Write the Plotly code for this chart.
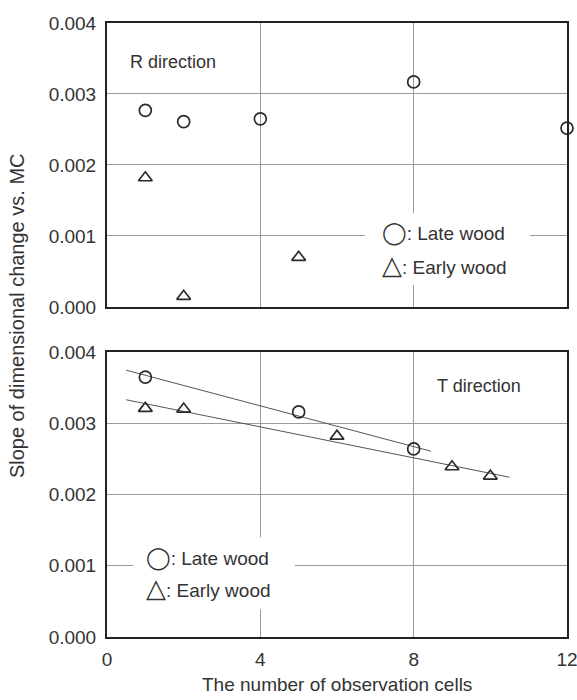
import numpy as np
import plotly.graph_objects as go

# ---- data ----
r_late_x = [1, 2, 4, 8, 12]
r_late_y = [0.00277, 0.00261, 0.00265, 0.00317, 0.00252]
r_early_x = [1, 2, 5]
r_early_y = [0.00182, 0.00015, 0.00070]

t_late_x = [1, 5, 8]
t_late_y = [0.00365, 0.00316, 0.00264]
t_early_x = [1, 2, 6, 9, 10]
t_early_y = [0.00321, 0.00320, 0.00282, 0.00239, 0.00226]

# extents of the fitted regression lines
t_late_fit_range = [0.5, 8.45]
t_early_fit_range = [0.5, 10.5]

x_ticks = [0, 4, 8, 12]
y_ticks = [0.000, 0.001, 0.002, 0.003, 0.004]
y_ticktext = ["0.000", "0.001", "0.002", "0.003", "0.004"]

FONT = "Liberation Sans, Arial, sans-serif"
TXT = "#333333"
MK = "#2a2a2a"
GRID = "#9a9a9a"

fig = go.Figure()

def markers(x, y, symbol, xa, ya):
    return go.Scatter(x=x, y=y, mode="markers", xaxis=xa, yaxis=ya,
                      cliponaxis=False, showlegend=False,
                      marker=dict(symbol=symbol, size=12, color=MK,
                                  line=dict(color=MK, width=1.7)))

# top: R direction
fig.add_trace(markers(r_late_x, r_late_y, "circle-open", "x2", "y2"))
fig.add_trace(markers(r_early_x, r_early_y, "triangle-up-open", "x2", "y2"))

# bottom: T direction with regression lines
for xs, ys, rng in [(t_late_x, t_late_y, t_late_fit_range),
                    (t_early_x, t_early_y, t_early_fit_range)]:
    k, b = np.polyfit(xs, ys, 1)
    lx = np.array(rng)
    fig.add_trace(go.Scatter(x=lx, y=k * lx + b, mode="lines", xaxis="x", yaxis="y",
                             showlegend=False, line=dict(color="#555555", width=1)))
fig.add_trace(markers(t_late_x, t_late_y, "circle-open", "x", "y"))
fig.add_trace(markers(t_early_x, t_early_y, "triangle-up-open", "x", "y"))

axis_common = dict(range=[0, 12], tickvals=x_ticks, showgrid=True, gridcolor=GRID,
                   gridwidth=1, showline=True, linecolor="#222222", linewidth=2,
                   mirror=True, zeroline=False, ticks="", ticklabelstandoff=4,
                   automargin=False, ticklabeloverflow="allow",
                   tickfont=dict(family=FONT, size=19, color=TXT))
yaxis_common = dict(range=[0, 0.004], tickvals=y_ticks, ticktext=y_ticktext,
                    showgrid=True, gridcolor=GRID, gridwidth=1, showline=True,
                    linecolor="#222222", linewidth=2, mirror=True, zeroline=False,
                    ticks="", ticklabelstandoff=5, automargin=False,
                    tickfont=dict(family=FONT, size=19, color=TXT))

fig.update_layout(
    width=577, height=700,
    margin=dict(l=107, r=10, t=23, b=63),
    paper_bgcolor="white", plot_bgcolor="white",
    xaxis=dict(axis_common, domain=[0, 1], anchor="y"),
    yaxis=dict(yaxis_common, domain=[0, 0.464], anchor="x"),
    xaxis2=dict(axis_common, domain=[0, 1], anchor="y2", showticklabels=False),
    yaxis2=dict(yaxis_common, domain=[0.5375, 1], anchor="x2"),
)

# white boxes that interrupt the grid behind the legend texts
fig.add_shape(type="rect", xref="x2", yref="y2", x0=6.73, x1=11.04, y0=0.00031, y1=0.00132,
              fillcolor="white", line=dict(width=0), layer="between")
fig.add_shape(type="rect", xref="x", yref="y", x0=0.68, x1=4.9, y0=0.00039, y1=0.00140,
              fillcolor="white", line=dict(width=0), layer="between")

GC = '<span style="font-family:DejaVu Sans;font-size:22px">◯</span>'
GT = '<span style="font-family:DejaVu Sans;font-size:26px">△</span>'
legend_lines = [
    ("x2", "y2", 7.12, 0.00104, GC + ": Late wood"),
    ("x2", "y2", 7.12, 0.00059, GT + ": Early wood"),
    ("x", "y", 0.97, 0.00111, GC + ": Late wood"),
    ("x", "y", 0.97, 0.00069, GT + ": Early wood"),
]
for xr, yr, x, y, t in legend_lines:
    fig.add_annotation(xref=xr, yref=yr, x=x, y=y, text=t,
                       showarrow=False, xanchor="left", yanchor="middle", align="left",
                       font=dict(family=FONT, size=19, color=TXT))

fig.add_annotation(xref="x2", yref="y2", x=0.55, y=0.00345, text="R direction",
                   showarrow=False, xanchor="left", yanchor="middle",
                   font=dict(family=FONT, size=18, color=TXT))
fig.add_annotation(xref="x", yref="y", x=8.55, y=0.00352, text="T direction",
                   showarrow=False, xanchor="left", yanchor="middle",
                   font=dict(family=FONT, size=18, color=TXT))

fig.add_annotation(xref="paper", yref="paper", x=-0.196, y=0.524,
                   text="Slope of dimensional change vs. MC", textangle=-90,
                   showarrow=False, xanchor="center", yanchor="middle",
                   font=dict(family=FONT, size=20, color=TXT))
fig.add_annotation(xref="paper", yref="paper", x=0.5, y=-0.078,
                   text="The number of observation cells",
                   showarrow=False, xanchor="center", yanchor="middle",
                   font=dict(family=FONT, size=19, color=TXT))

fig.write_html(
    "out.html", config={"displayModeBar": False, "responsive": False},
    post_script=("document.documentElement.style.margin='0';"
                 "document.documentElement.style.overflow='hidden';"
                 "document.body.style.margin='0';document.body.style.overflow='hidden';"))
